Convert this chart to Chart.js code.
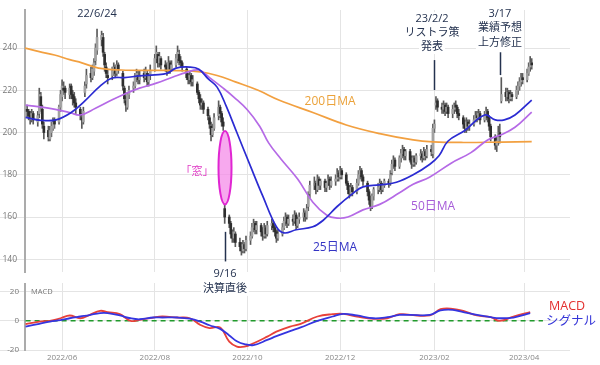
<!DOCTYPE html>
<html>
  <head>
    <title>Stock price with moving averages and MACD</title>
    <script src="https://cdn.jsdelivr.net/npm/chart.js"></script>
    <style>
      body { margin: 0; background: #fff; }
      #wrap { position: relative; width: 600px; height: 365px; }
      #mainChart { position: absolute; left: 0; top: 0; z-index: 2; }
      #macdChart { position: absolute; left: 0; top: 283px; z-index: 1; }
    </style>
  </head>

  <body>
    <div id="wrap">
      <canvas id="mainChart" width="600" height="300"></canvas>
      <canvas id="macdChart" width="600" height="82"></canvas>
    </div>

    <script>
      // x values are days counted from 2022/05/01
      var firstMonday = 8; // 2022/05/09
      var xMin = 6.6;
      var xMax = 365.2;
      var monthDays = [31, 92, 153, 214, 276, 335];
      var monthLabels = ["2022/06", "2022/08", "2022/10", "2022/12", "2023/02", "2023/04"];
      var priceTicks = [140, 160, 180, 200, 220, 240];
      var macdTicks = [-20, 0, 20];

      // daily candles, one line per week (Mon-Fri)
      var opens = [
        211, 210, 208, 206, 209,  205, 209, 217, 211, 203,  201, 197, 200, 202, 206,
        205, 212, 217, 221, 221,  218, 222, 218, 217, 214,  211, 207, 205, 219, 223,
        228, 226, 229, 234, 239,  244, 245, 237, 231, 227,  227, 229, 231, 228, 232,
        228, 221, 215, 212, 218,  221, 222, 226, 227, 225,  228, 226, 228, 224, 227,
        230, 235, 237, 233, 235,  232, 231, 229, 233, 230,  232, 235, 237, 234, 233,
        230, 226, 225, 227, 224,  223, 219, 216, 213, 214,  211, 207, 203, 199, 202,
        208, 212, 209, 205, 164,  160, 157, 152, 150, 152,  148, 146, 144, 147, 145,
        149, 151, 155, 157, 154,  156, 153, 151, 155, 152,  156, 157, 155, 153, 150,
        152, 155, 158, 160, 157,  159, 158, 161, 156, 159,  160, 162, 160, 165, 171,
        175, 176, 173, 178, 175,  177, 174, 176, 178, 175,  177, 178, 181, 179, 182,
        180, 176, 173, 171, 174,  172, 176, 180, 182, 179,  176, 172, 168, 165, 170,
        173, 174, 176, 173, 175,  177, 176, 181, 185, 187,  184, 188, 190, 192, 189,
        191, 187, 185, 188, 186,  189, 190, 188, 191, 189,  192, 190, 202, 213, 215,
        212, 211, 213, 210, 212,  209, 211, 213, 212, 209,  207, 204, 202, 205, 203,
        204, 206, 208, 207, 209,  206, 208, 210, 207, 203,  198, 194, 196, 200, 215,
        219, 217, 219, 216, 218,  217, 220, 222, 224, 226,  225, 228, 231, 233
      ];
      var highs = [
        213, 211, 210, 211, 210,  210, 221, 219, 213, 205,  203, 203, 205, 207, 207,
        213, 220, 225, 224, 222,  223, 223, 220, 219, 216,  212, 209, 212, 224, 230,
        231, 232, 235, 242, 249,  248, 247, 238, 233, 230,  231, 233, 232, 234, 233,
        229, 222, 217, 219, 222,  224, 228, 230, 229, 229,  230, 231, 229, 228, 232,
        237, 241, 238, 238, 236,  234, 233, 236, 234, 234,  237, 241, 239, 236, 234,
        231, 228, 229, 228, 227,  224, 220, 218, 216, 215,  212, 208, 205, 204, 209,
        215, 213, 210, 207, 166,  161, 158, 154, 155, 153,  150, 148, 149, 148, 151,
        153, 157, 159, 158, 158,  157, 155, 157, 156, 158,  159, 158, 156, 154, 154,
        157, 160, 162, 161, 161,  161, 163, 162, 160, 162,  164, 163, 166, 172, 177,
        179, 177, 180, 179, 178,  178, 177, 180, 179, 179,  180, 183, 182, 184, 183,
        181, 177, 175, 176, 175,  178, 182, 184, 183, 180,  177, 173, 170, 171, 174,
        176, 178, 177, 176, 178,  178, 182, 187, 189, 188,  189, 192, 194, 193, 192,
        192, 189, 189, 189, 190,  192, 191, 193, 192, 194,  194, 204, 206, 217, 216,
        214, 215, 214, 214, 213,  213, 214, 215, 213, 211,  208, 206, 207, 206, 206,
        208, 210, 210, 211, 210,  210, 212, 211, 208, 204,  199, 198, 203, 204, 226,
        221, 221, 220, 220, 219,  222, 224, 226, 228, 228,  230, 233, 236, 235
      ];
      var lows = [
        207, 206, 204, 205, 204,  203, 207, 210, 202, 197,  196, 196, 198, 201, 202,
        204, 210, 215, 218, 216,  216, 216, 213, 212, 209,  206, 202, 204, 217, 221,
        224, 225, 227, 232, 237,  241, 236, 229, 226, 223,  225, 227, 226, 227, 228,
        220, 214, 210, 211, 216,  219, 221, 224, 223, 223,  224, 225, 222, 222, 225,
        229, 233, 231, 231, 230,  229, 227, 228, 228, 229,  231, 233, 232, 231, 229,
        225, 223, 223, 222, 222,  218, 214, 211, 211, 209,  206, 202, 196, 198, 201,
        206, 207, 203, 201, 157,  155, 150, 148, 148, 146,  144, 142, 143, 143, 144,
        147, 150, 153, 152, 152,  151, 149, 150, 150, 151,  154, 153, 151, 148, 149,
        151, 154, 156, 155, 156,  156, 157, 154, 155, 157,  158, 158, 159, 163, 169,
        173, 171, 172, 173, 173,  172, 172, 175, 173, 174,  175, 177, 177, 178, 178,
        175, 171, 169, 170, 170,  171, 175, 178, 177, 175,  170, 166, 163, 164, 168,
        171, 172, 171, 172, 174,  174, 175, 180, 183, 182,  183, 186, 188, 187, 187,
        186, 183, 184, 184, 185,  187, 186, 187, 187, 188,  189, 188, 200, 211, 210,
        209, 209, 208, 209, 207,  207, 209, 210, 207, 206,  202, 200, 200, 201, 201,
        203, 205, 205, 206, 204,  205, 206, 205, 201, 196,  192, 191, 194, 195, 214,
        215, 215, 214, 215, 215,  216, 218, 220, 222, 223,  224, 227, 229, 230
      ];
      var closes = [
        210, 208, 207, 209, 206,  208, 218, 212, 204, 200,  198, 201, 203, 205, 204,
        212, 218, 222, 220, 219,  221, 218, 216, 214, 212,  208, 206, 210, 222, 227,
        226, 230, 233, 240, 245,  246, 238, 232, 228, 226,  229, 231, 228, 232, 230,
        222, 216, 213, 218, 220,  222, 226, 228, 225, 227,  226, 229, 224, 227, 229,
        235, 238, 233, 236, 232,  231, 229, 233, 230, 232,  235, 238, 234, 233, 231,
        226, 225, 227, 224, 225,  219, 216, 213, 214, 211,  208, 204, 199, 202, 207,
        212, 209, 205, 203, 160,  157, 152, 150, 153, 148,  146, 144, 147, 145, 149,
        151, 155, 157, 154, 156,  153, 151, 155, 152, 156,  157, 155, 153, 150, 152,
        155, 158, 160, 157, 159,  158, 161, 156, 159, 160,  162, 160, 164, 170, 175,
        176, 173, 178, 175, 177,  174, 176, 178, 175, 177,  178, 181, 179, 182, 180,
        176, 173, 171, 174, 172,  176, 180, 182, 179, 177,  172, 168, 165, 170, 173,
        174, 176, 173, 175, 177,  176, 180, 185, 187, 184,  188, 190, 192, 189, 191,
        187, 185, 188, 186, 189,  190, 188, 191, 189, 192,  191, 202, 204, 214, 212,
        211, 213, 210, 212, 209,  211, 213, 212, 209, 208,  204, 202, 205, 203, 204,
        206, 208, 207, 209, 206,  208, 210, 207, 203, 198,  194, 196, 200, 198, 218,
        217, 219, 216, 218, 217,  220, 222, 224, 226, 225,  228, 231, 233, 232
      ];

      // moving averages
      var ma25Days = [7, 17, 27, 37, 46, 56, 64, 72, 82, 92, 100, 106, 115, 121, 127, 133, 139, 146, 155, 163,
        172, 177, 185, 196, 203, 212, 222, 229, 240, 251, 262, 273, 279, 285, 296, 309, 316, 322, 329, 340];
      var ma25 = [207.2, 205.8, 206, 209.5, 215, 222, 225.8, 226, 226.8, 227.3, 228, 230.5, 231, 230, 225.5, 221.5, 212.5, 200, 184, 170,
        155.4, 152.5, 154, 155.4, 158.6, 165, 171, 174.3, 175.2, 176.5, 180, 185, 189, 196, 201, 208.3, 206, 206, 208.3, 215.4];

      var ma50Days = [7, 22, 36, 43, 53, 64, 73, 82, 93, 104, 113, 121, 128, 137, 144, 153, 161, 167, 175, 186,
        196, 205, 212, 219, 229, 240, 253, 262, 273, 287, 300, 311, 320, 329, 340];
      var ma50 = [213, 211.6, 209.5, 208.3, 211.5, 215.5, 218.5, 221, 223.4, 226.3, 228.5, 229.6, 226, 221, 216.8, 210.7, 203, 195, 187.5, 178,
        167, 161, 159.5, 160, 163.4, 166, 171.5, 175.5, 179, 185.5, 190.5, 196.5, 199, 202.5, 209.7];

      var ma200Days = [6.6, 16, 26, 36, 44, 55, 70, 90, 108, 122, 133, 145, 160, 174, 196, 218, 240, 262, 275, 295, 320, 340];
      var ma200 = [240, 238.3, 236.7, 234.5, 233, 230.5, 229.6, 229.4, 229.3, 228.7, 227, 224, 220, 215.3, 209.5, 203.6, 199.5, 196.5, 195.6, 195.3, 195.5, 195.7];

      // MACD panel
      var macdDays = [7, 16, 23, 30, 36, 43, 49, 56, 61, 69, 76, 82, 91, 97, 107, 115, 122, 128, 135, 141, 146, 151,
        157, 166, 172, 181, 188, 199, 209, 216, 225, 236, 245, 253, 260, 273, 280, 288, 295, 304, 313, 319, 328, 339];
      var macd = [-2.3, -0.5, 0, 1.8, 3.7, 1.8, 4, 6.9, 6, 4.6, 0, 0.7, 2.3, 3, 2.3, 1.8, -2.8, -5, -4.6, -14.3, -17.7, -17.7,
        -15.4, -10.8, -7.4, -3.9, -2, 3, 4.6, 4.8, 3, 1.4, 1.8, 4.6, 4.1, 3.7, 8, 8.3, 6.9, 3.7, 2.5, 0, 3, 6];
      var signal = [-3.9, -2, -0.5, 0.5, 1.8, 3, 4, 5.3, 5.3, 3.7, 1.8, 1.1, 2.3, 2.3, 2.3, 1.5, -0.5, -3, -5.5, -10, -14, -16,
        -16.6, -13.1, -10.5, -7, -4.5, 0, 3, 4.8, 3.7, 1.8, 2.5, 4.1, 4.1, 4.1, 7.2, 7.6, 6, 4.1, 2.5, 1.8, 2.3, 5.3];
      var zeroLineEnd = 347.4;

      // trading days (weekdays) for the candles
      var tradeDays = [];
      for (var w = 0; tradeDays.length < closes.length; w++) {
        for (var d = 0; d < 5 && tradeDays.length < closes.length; d++) {
          tradeDays.push(firstMonday + 7 * w + d);
        }
      }

      function pts(xs, ys) {
        return xs.map(function (x, i) { return { x: x, y: ys[i] }; });
      }

      var navy = "#24324f";
      var font = "'Open Sans', 'Noto Sans CJK JP', sans-serif";
      var gridColor = "#e4e4e4";

      // annotations in data coordinates (day, price)
      var notes = [
        { text: "22/6/24", day: 54, price: 256.1, color: navy, size: 11, box: true },
        { text: "23/2/2", day: 274.4, price: 253.7, color: navy, size: 11, box: true },
        { text: "リストラ策", day: 274.4, price: 247.1, color: navy, size: 11, box: true },
        { text: "発表", day: 274.4, price: 240.5, color: navy, size: 11, box: true },
        { text: "3/17", day: 319.1, price: 256.1, color: navy, size: 11, box: true },
        { text: "業績予想", day: 319.1, price: 249.5, color: navy, size: 11, box: true },
        { text: "上方修正", day: 319.1, price: 242.4, color: navy, size: 11, box: true },
        { text: "9/16", day: 138.2, price: 133.1, color: navy, size: 11, box: true },
        { text: "決算直後", day: 138.2, price: 126, color: navy, size: 11, box: true },
        { text: "200日MA", day: 207.3, price: 214.5, color: "#eba23a", size: 12 },
        { text: "25日MA", day: 210.6, price: 145.4, color: "#3434c4", size: 12 },
        { text: "50日MA", day: 275.1, price: 164.8, color: "#a65bd8", size: 12 },
        { text: "「窓」", day: 119.8, price: 181.3, color: "#e03cc6", size: 11 }
      ];
      var eventLines = [
        { day: 138.2, from: 153, to: 139 },
        { day: 275.7, from: 234.3, to: 220.1 },
        { day: 319.1, from: 238, to: 227.2 }
      ];
      var gapMark = { day: 138.2, top: 200.7, bottom: 166, halfWidth: 6.5 };

      var notesPlugin = {
        id: "notes",
        afterDatasetsDraw: function (chart) {
          var ctx = chart.ctx;
          var xs = chart.scales.x;
          var ys = chart.scales.y;
          ctx.save();

          // the gap ("窓") ellipse
          var cx = xs.getPixelForValue(gapMark.day);
          var top = ys.getPixelForValue(gapMark.top);
          var bottom = ys.getPixelForValue(gapMark.bottom);
          ctx.beginPath();
          ctx.ellipse(cx, (top + bottom) / 2, gapMark.halfWidth, (bottom - top) / 2, 0, 0, Math.PI * 2);
          ctx.fillStyle = "rgba(244, 140, 232, 0.75)";
          ctx.fill();
          ctx.lineWidth = 2;
          ctx.strokeStyle = "#e026d2";
          ctx.stroke();

          // event markers
          ctx.strokeStyle = navy;
          ctx.lineWidth = 1.5;
          eventLines.forEach(function (l) {
            var x = Math.round(xs.getPixelForValue(l.day)) + 0.5;
            ctx.beginPath();
            ctx.moveTo(x, ys.getPixelForValue(l.from));
            ctx.lineTo(x, ys.getPixelForValue(l.to));
            ctx.stroke();
          });

          ctx.textAlign = "center";
          ctx.textBaseline = "middle";
          notes.forEach(function (n) {
            var x = xs.getPixelForValue(n.day);
            var y = ys.getPixelForValue(n.price);
            ctx.font = n.size + "px " + font;
            if (n.box) {
              var w = ctx.measureText(n.text).width + 4;
              ctx.fillStyle = "#ffffff";
              ctx.fillRect(x - w / 2, y - 7, w, 14);
            }
            ctx.fillStyle = n.color;
            ctx.fillText(n.text, x, y);
          });
          ctx.restore();
        },
      };

      var bodyColors = closes.map(function (c, i) {
        return c >= opens[i] ? "#a2a2a2" : "#2e2e2e";
      });

      var mainCtx = document.getElementById("mainChart").getContext("2d");
      var mainChart = new Chart(mainCtx, {
        type: "bar",
        data: {
          datasets: [
            {
              type: "line",
              label: "25日MA",
              data: pts(ma25Days, ma25),
              borderColor: "#2b2bd2",
              borderWidth: 1.7,
              pointRadius: 0,
              tension: 0.4,
              order: 0,
            },
            {
              type: "line",
              label: "50日MA",
              data: pts(ma50Days, ma50),
              borderColor: "#b56ae6",
              borderWidth: 1.7,
              pointRadius: 0,
              tension: 0.4,
              order: 0,
            },
            {
              type: "line",
              label: "200日MA",
              data: pts(ma200Days, ma200),
              borderColor: "#f2a040",
              borderWidth: 1.7,
              pointRadius: 0,
              tension: 0.4,
              order: 0,
            },
            {
              label: "body",
              data: tradeDays.map(function (d, i) { return { x: d, y: [opens[i], closes[i]] }; }),
              backgroundColor: bodyColors,
              barThickness: 2,
              minBarLength: 1,
              grouped: false,
              order: 1,
            },
            {
              label: "wick",
              data: tradeDays.map(function (d, i) { return { x: d, y: [lows[i], highs[i]] }; }),
              backgroundColor: "#5a5a5a",
              barThickness: 1,
              grouped: false,
              order: 2,
            },
          ],
        },
        options: {
          responsive: false,
          animation: false,
          events: [],
          layout: { padding: { left: 0, right: 30, top: 10, bottom: 28 } },
          plugins: { legend: { display: false }, tooltip: { enabled: false } },
          scales: {
            x: {
              type: "linear",
              min: xMin,
              max: xMax,
              offset: false,
              grid: { color: gridColor, offset: false, drawTicks: false },
              border: { display: false },
              ticks: { display: false },
              afterBuildTicks: function (s) {
                s.ticks = monthDays.map(function (v) { return { value: v }; });
              },
              afterFit: function (s) { s.height = 0; },
            },
            y: {
              min: 134,
              max: 258,
              grid: { color: gridColor, tickColor: gridColor, tickLength: 25 },
              border: { display: true, color: "#ababab", width: 2 },
              ticks: { padding: -17, color: "#777", font: { size: 8.5, family: "'Open Sans'" } },
              afterBuildTicks: function (s) {
                s.ticks = priceTicks.map(function (v) { return { value: v }; });
              },
              afterFit: function (s) { s.width = 25; },
            },
          },
        },
        plugins: [notesPlugin],
      });

      var macdLabels = {
        id: "macdLabels",
        afterDatasetsDraw: function (chart) {
          var ctx = chart.ctx;
          var ys = chart.scales.y;
          ctx.save();
          ctx.textBaseline = "middle";
          ctx.textAlign = "left";
          ctx.font = "7.5px 'Open Sans'";
          ctx.fillStyle = "#777";
          ctx.fillText("MACD", chart.chartArea.left + 6, ys.getPixelForValue(20));
          ctx.font = "12.5px " + font;
          ctx.fillStyle = "#e3302f";
          ctx.fillText("MACD", 549, 23);
          ctx.fillStyle = "#3535d8";
          ctx.fillText("シグナル", 546, 38);
          ctx.restore();
        },
      };

      var macdCtx = document.getElementById("macdChart").getContext("2d");
      var macdChart = new Chart(macdCtx, {
        type: "line",
        data: {
          datasets: [
            {
              label: "シグナル",
              data: pts(macdDays, signal),
              borderColor: "#3535e0",
              borderWidth: 1.8,
              pointRadius: 0,
              tension: 0.4,
            },
            {
              label: "MACD",
              data: pts(macdDays, macd),
              borderColor: "#e8413a",
              borderWidth: 1.8,
              pointRadius: 0,
              tension: 0.4,
            },
            {
              label: "zero",
              data: [{ x: macdDays[0], y: 0 }, { x: zeroLineEnd, y: 0 }],
              borderColor: "#219a2c",
              borderWidth: 1.5,
              borderDash: [5, 4],
              pointRadius: 0,
            },
          ],
        },
        options: {
          responsive: false,
          animation: false,
          events: [],
          layout: { padding: { left: 0, right: 30, top: 0, bottom: 0 } },
          plugins: { legend: { display: false }, tooltip: { enabled: false } },
          scales: {
            x: {
              type: "linear",
              min: xMin,
              max: xMax,
              grid: { color: gridColor, drawTicks: false },
              border: { display: false },
              ticks: {
                padding: 3,
                color: "#888",
                maxRotation: 0,
                font: { size: 8, family: "'Open Sans'" },
                callback: function (v) {
                  var i = monthDays.indexOf(v);
                  return i >= 0 ? monthLabels[i] : "";
                },
              },
              afterBuildTicks: function (s) {
                s.ticks = monthDays.map(function (v) { return { value: v }; });
              },
              afterFit: function (s) { s.height = 15; },
            },
            y: {
              min: -20,
              max: 26,
              grid: { color: gridColor, tickColor: gridColor, tickLength: 25 },
              border: { display: true, color: "#ababab", width: 2 },
              ticks: { padding: -19, color: "#777", font: { size: 8, family: "'Open Sans'" } },
              afterBuildTicks: function (s) {
                s.ticks = macdTicks.map(function (v) { return { value: v }; });
              },
              afterFit: function (s) { s.width = 25; },
            },
          },
        },
        plugins: [macdLabels],
      });
    </script>
  </body>
</html>
